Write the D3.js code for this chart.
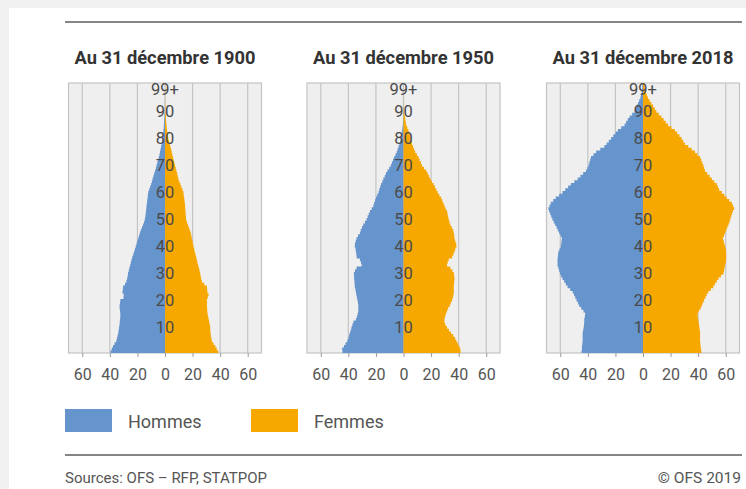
<!DOCTYPE html>
<html><head><meta charset="utf-8">
<script src="https://cdn.jsdelivr.net/npm/d3@7"></script>
<style>
html,body{margin:0;padding:0;background:#f0f0f0;}
svg{display:block;font-family:Roboto,"Noto Sans",sans-serif;}
</style></head>
<body>
<svg id="chart" width="746" height="489"></svg>
<script>
// ---------- data (thousands of persons, single-year ages 0..99+) ----------
const panelTitles = ["Au 31 décembre 1900", "Au 31 décembre 1950", "Au 31 décembre 2018"];
const seriesNames = ["Hommes", "Femmes"];
const xTickValues = [-60, -40, -20, 0, 20, 40, 60];
const ageTickValues = [10, 20, 30, 40, 50, 60, 70, 80, 90, 99];
const ageTickLabels = ["10", "20", "30", "40", "50", "60", "70", "80", "90", "99+"];
const sourceText = "Sources: OFS – RFP, STATPOP";
const copyrightText = "© OFS 2019";

const men1900 = [
 40.6,39.5,38.6,37.7,36.6,35.3,34.8,34.3,33.9,33.6,
 33.3,33.0,32.8,32.6,32.4,32.4,32.6,32.9,33.0,32.6,
 32.4,30.1,30.0,30.9,30.6,30.4,29.0,28.0,27.5,27.1,
 26.8,26.3,25.8,25.2,24.8,24.3,23.7,23.0,22.4,21.8,
 21.2,20.6,20.0,19.4,18.8,18.2,17.5,16.7,15.9,15.2,
 14.6,14.3,14.0,13.8,13.6,13.4,13.1,12.9,12.6,12.4,
 12.2,11.5,10.8,10.1,9.5,9.0,8.4,7.8,7.2,6.6,
 6.1,5.6,5.0,4.5,4.0,3.6,3.2,2.8,2.4,2.0,
 1.7,1.5,1.3,1.1,0.9,0.8,0.6,0.5,0.4,0.3,
 0.2,0.2,0.1,0.1,0.1,0.05,0.05,0.0,0.0,0.0];
const women1900 = [
 39.7,38.6,37.5,36.5,35.2,34.0,33.6,33.3,33.0,32.9,
 32.8,32.5,32.1,31.7,31.3,30.9,30.7,30.5,30.4,30.5,
 30.4,31.0,31.6,30.8,30.6,30.4,28.5,26.8,26.3,25.9,
 25.5,25.1,24.6,24.0,23.6,23.1,22.6,22.1,21.6,21.2,
 20.7,20.3,19.9,19.5,19.1,18.7,18.0,17.3,16.6,15.9,
 15.3,15.2,15.0,14.9,14.7,14.6,14.4,14.1,13.9,13.6,
 13.4,12.7,11.9,11.2,10.4,9.7,9.3,8.8,8.3,7.8,
 7.3,6.8,6.3,5.8,5.3,4.9,4.4,3.9,3.4,2.9,
 2.4,2.1,1.8,1.5,1.3,1.1,0.9,0.7,0.6,0.5,
 0.4,0.3,0.25,0.2,0.15,0.1,0.1,0.05,0.05,0.05];
const men1950 = [
 41.4,44.3,44.5,43.2,42.0,40.8,40.0,39.4,38.9,38.2,
 37.7,37.0,36.3,34.5,33.8,33.2,32.8,32.8,32.8,33.0,
 33.4,33.8,34.2,34.5,34.9,35.3,35.5,35.6,35.8,35.9,
 36.0,35.2,34.0,30.4,30.8,31.6,34.0,34.2,34.5,34.8,
 35.3,35.2,34.6,34.0,33.0,31.6,31.0,30.1,29.2,28.0,
 26.8,26.0,25.2,24.3,23.1,21.9,21.3,20.6,20.0,19.1,
 18.2,17.6,16.9,16.3,15.4,14.6,13.6,12.7,11.7,10.4,
 9.2,8.4,7.6,6.8,5.8,4.9,4.2,3.5,2.9,2.4,
 1.9,1.6,1.3,1.0,0.8,0.5,0.4,0.3,0.2,0.15,
 0.1,0.08,0.05,0.03,0.02,0.0,0.0,0.0,0.0,0.0];
const women1950 = [
 40.9,41.4,41.2,40.4,39.4,38.4,37.4,36.0,34.5,33.0,
 31.6,30.4,29.7,29.7,30.2,30.8,31.6,32.4,33.6,34.3,
 35.3,35.8,36.2,36.5,36.5,36.5,36.6,36.8,37.0,36.8,
 36.5,35.5,34.0,31.6,32.0,32.8,35.3,36.2,37.0,37.6,
 38.4,38.2,37.5,37.0,36.8,36.5,36.0,35.0,34.0,33.4,
 32.8,32.4,32.0,31.6,30.6,29.7,28.9,28.1,27.3,26.0,
 24.8,23.8,22.8,21.9,20.6,19.5,18.5,17.5,16.5,14.9,
 13.4,12.6,11.7,10.9,9.7,8.5,7.7,6.9,6.1,5.8,
 5.4,4.8,4.2,3.6,2.8,2.0,1.6,1.3,1.0,0.6,
 0.3,0.2,0.15,0.1,0.08,0.05,0.03,0.02,0.0,0.0];
const men2018 = [
 45.0,44.6,44.3,44.3,44.0,43.8,43.8,43.8,43.8,43.4,
 43.0,42.8,42.6,42.6,42.2,42.0,43.2,44.8,46.2,47.2,
 48.2,49.1,50.0,51.0,52.8,54.7,56.0,57.2,58.4,59.4,
 60.3,60.8,61.4,62.0,62.0,62.0,61.8,61.6,61.3,60.5,
 59.6,59.3,59.1,58.9,59.8,60.8,61.8,62.7,63.7,64.7,
 65.7,66.5,67.3,68.1,68.6,67.8,66.9,65.1,63.3,60.8,
 58.4,56.4,54.3,52.3,49.8,47.4,45.4,43.4,41.4,40.4,
 39.4,38.9,38.3,37.7,35.9,34.0,31.0,28.0,26.4,24.8,
 23.1,21.5,19.8,18.2,15.8,13.4,12.2,11.0,9.7,7.9,
 6.1,5.3,4.4,3.6,2.8,1.9,1.5,1.0,0.7,0.5];
const women2018 = [
 42.6,42.3,42.0,41.8,41.6,41.4,41.4,41.4,41.4,41.2,
 40.9,40.6,40.3,40.0,39.7,39.6,40.6,41.8,42.6,43.4,
 44.3,45.3,46.3,47.4,49.2,51.0,52.2,53.5,54.7,56.5,
 58.4,58.8,59.2,59.6,60.0,60.3,60.3,60.3,60.3,60.0,
 59.6,59.0,58.5,57.9,58.8,59.6,60.4,61.2,62.0,62.7,
 63.3,63.9,64.6,65.2,66.2,65.4,64.5,62.6,60.8,59.0,
 57.2,55.3,54.4,53.5,51.7,49.9,48.3,46.6,45.0,44.4,
 43.8,43.0,42.2,41.4,39.6,37.7,35.3,32.8,30.4,29.2,
 28.0,26.4,24.8,23.1,20.6,18.2,16.5,14.9,13.4,11.5,
 9.7,8.5,7.3,6.1,4.9,3.6,2.8,2.0,1.6,1.2];

const menSeries = [men1900, men1950, men2018];
const womenSeries = [women1900, women1950, women2018];

// ---------- style ----------
const colMen = "#6694cd", colWomen = "#f6a800";
const W = 746, H = 489;
const svg = d3.select("#chart");

// page card
svg.append("rect").attr("x", 9).attr("y", 8).attr("width", W - 9).attr("height", H - 8).attr("fill", "#fff");
svg.append("line").attr("x1", 65).attr("x2", 742).attr("y1", 22).attr("y2", 22)
  .attr("stroke", "#858585").attr("stroke-width", 2);
svg.append("line").attr("x1", 65).attr("x2", 742).attr("y1", 455).attr("y2", 455)
  .attr("stroke", "#858585").attr("stroke-width", 2);

const panelLefts = [68.5, 307, 546.5];
const panelW = 193, plotTop = 83, plotBottom = 353;

const y = d3.scaleLinear().domain([0, 100]).range([plotBottom, plotTop]);

panelTitles.forEach((title, p) => {
  const x = d3.scaleLinear().domain([-70, 70]).range([panelLefts[p], panelLefts[p] + panelW]);
  const g = svg.append("g");

  g.append("text").attr("x", x(0)).attr("y", 63.5).attr("text-anchor", "middle")
    .attr("font-size", 18.3).attr("font-weight", "bold").attr("fill", "#333").text(title);

  g.append("rect").attr("x", x(-70)).attr("y", plotTop).attr("width", x(70) - x(-70))
    .attr("height", plotBottom - plotTop).attr("fill", "#efefef").attr("stroke", "#c4c4c4").attr("stroke-width", 1.2);

  g.selectAll("line.grid").data(xTickValues).join("line").attr("class", "grid")
    .attr("x1", d => x(d)).attr("x2", d => x(d)).attr("y1", plotTop).attr("y2", plotBottom)
    .attr("stroke", "#c4c4c4").attr("stroke-width", 1.2);

  const mVals = menSeries[p], fVals = womenSeries[p];
  // value of age a spans [a, a+1]; age 100 closes the top band
  const pts = d3.range(101);
  g.append("path").datum(pts).attr("fill", colMen)
    .attr("d", d3.area().curve(d3.curveStepAfter)
      .y(a => y(a)).x0(x(0)).x1(a => x(-mVals[Math.min(a, 99)])));
  g.append("path").datum(pts).attr("fill", colWomen)
    .attr("d", d3.area().curve(d3.curveStepAfter)
      .y(a => y(a)).x0(x(0)).x1(a => x(fVals[Math.min(a, 99)])));

  // x axis
  const ax = g.append("g").attr("transform", `translate(0,${plotBottom})`)
    .call(d3.axisBottom(x).tickValues(xTickValues).tickFormat(d => Math.abs(d)).tickSize(4).tickPadding(12));
  ax.select(".domain").remove();
  ax.selectAll(".tick line").attr("stroke", "#9a9a9a");
  ax.selectAll(".tick text").attr("font-size", 16).attr("fill", "#555").attr("font-family", "Roboto");

  // age labels
  g.selectAll("text.age").data(ageTickValues).join("text").attr("class", "age")
    .attr("x", x(0)).attr("y", d => Math.max(y(d) + 1.5, plotTop + 6.5))
    .attr("text-anchor", "middle").attr("dominant-baseline", "central")
    .attr("font-size", 16.5).attr("fill", "#4a4a4a")
    .text((d, i) => ageTickLabels[i]);
});

// legend
const legend = svg.append("g");
const legendX = [65, 251];
seriesNames.forEach((name, i) => {
  legend.append("rect").attr("x", legendX[i]).attr("y", 409).attr("width", 47).attr("height", 23)
    .attr("fill", i === 0 ? colMen : colWomen);
  legend.append("text").attr("x", legendX[i] + 63).attr("y", 421).attr("dominant-baseline", "central")
    .attr("font-size", 18).attr("fill", "#555").text(name);
});

// footer
svg.append("text").attr("x", 65).attr("y", 483).attr("font-size", 15).attr("fill", "#555")
  .text(sourceText);
svg.append("text").attr("x", 741).attr("y", 483).attr("text-anchor", "end").attr("font-size", 15.5)
  .attr("fill", "#555").text(copyrightText);
</script>
</body></html>
